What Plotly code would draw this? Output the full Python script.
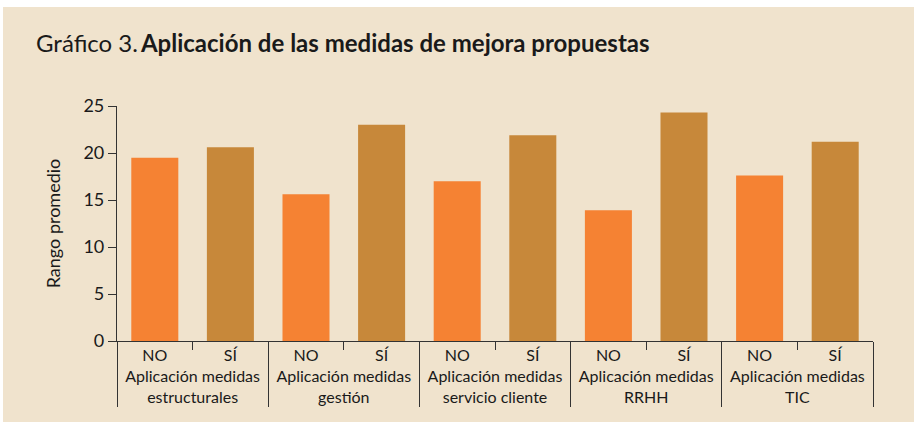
import plotly.graph_objects as go

groups = ["Aplicación medidas<br>estructurales", "Aplicación medidas<br>gestión",
          "Aplicación medidas<br>servicio cliente", "Aplicación medidas<br>RRHH",
          "Aplicación medidas<br>TIC"]
answers = ["NO", "SÍ"]
values_no = [19.5, 15.6, 17.0, 13.9, 17.6]
values_si = [20.6, 23.0, 21.9, 24.3, 21.2]
y_ticks = [0, 5, 10, 15, 20, 25]

x_grp, x_ans, vals, cols = [], [], [], []
for g, vn, vs in zip(groups, values_no, values_si):
    x_grp += [g, g]
    x_ans += answers
    vals += [vn, vs]
    cols += ["#F58233", "#C7883A"]

BG = "#F0E3CD"
FONT = "Lato"

fig = go.Figure(go.Bar(x=[x_grp, x_ans], y=vals, marker=dict(color=cols, line=dict(width=0)),
                       showlegend=False))

fig.update_layout(
    width=917, height=422,
    margin=dict(l=117, r=44, t=106, b=81),
    paper_bgcolor="white", plot_bgcolor=BG,
    bargap=0.378,
    font=dict(family=FONT, color="#1a1a1a", size=15),
    shapes=[dict(type="rect", xref="paper", yref="paper",
                 x0=(3 - 117) / 756, x1=(914 - 117) / 756,
                 y0=(341 - 422) / 235, y1=(341 - 7) / 235,
                 fillcolor=BG, line=dict(width=0), layer="below")],
    annotations=[dict(text="Gráfico 3.\u2009<b>Aplicación de las medidas de mejora propuestas</b>",
                      xref="paper", yref="paper", x=(34 - 117) / 756, y=(341 - 42) / 235,
                      xanchor="left", yanchor="middle", showarrow=False,
                      font=dict(size=24, family=FONT, color="#1a1a1a"))],
)
fig.update_yaxes(range=[0, 25], tickvals=y_ticks, showgrid=False, zeroline=False,
                 showline=True, linecolor="#333", linewidth=1.2,
                 ticks="outside", ticklen=8, tickcolor="#333",
                 tickfont=dict(size=18),
                 title=dict(text="Rango promedio", font=dict(size=18), standoff=18))
fig.update_xaxes(showline=True, linecolor="#333", linewidth=1.2,
                 ticks="outside", tickson="boundaries", ticklen=8, tickcolor="#333",
                 showdividers=True, dividercolor="#333", dividerwidth=1.2,
                 tickfont=dict(size=16), showgrid=False)

fig.write_html("out.html")
